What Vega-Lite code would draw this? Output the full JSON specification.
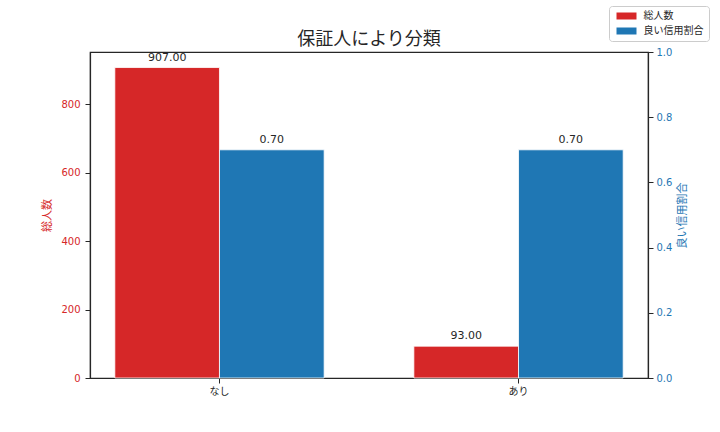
{
  "$schema": "https://vega.github.io/schema/vega-lite/v6.json",
  "width": 558,
  "height": 326,
  "autosize": {"type": "none"},
  "padding": {"left": 90, "top": 52, "right": 72, "bottom": 54},
  "background": "white",
  "config": {
    "font": "DejaVu Sans, Noto Sans CJK JP",
    "view": {"stroke": "#262626", "strokeWidth": 1.2},
    "axis": {"domainColor": "#262626", "domainWidth": 1.2, "tickColor": "#262626", "tickSize": 5, "tickWidth": 1, "grid": false, "labelFontSize": 10, "labelFont": "DejaVu Sans, Noto Sans CJK JP", "titleFont": "DejaVu Sans, Noto Sans CJK JP", "titleFontWeight": "normal"}
  },
  "title": {"text": "保証人により分類", "fontSize": 18, "fontWeight": "normal", "color": "#262626", "offset": 6, "dy": 63, "baseline": "alphabetic", "font": "Noto Sans CJK JP"},
  "data": {"values": [
    {"guarantor": "なし", "metric": "総人数", "value": 907},
    {"guarantor": "なし", "metric": "良い信用割合", "value": 0.70},
    {"guarantor": "あり", "metric": "総人数", "value": 93},
    {"guarantor": "あり", "metric": "良い信用割合", "value": 0.70}
  ]},
  "encoding": {
    "x": {"field": "guarantor", "type": "nominal", "sort": ["なし", "あり"], "scale": {"paddingInner": 0.3, "paddingOuter": 0.083},
      "axis": {"title": null, "labelAngle": 0, "labelColor": "#262626", "labelPadding": 3, "labelFontSize": 10}},
    "xOffset": {"field": "metric", "type": "nominal", "sort": ["総人数", "良い信用割合"]}
  },
  "layer": [
    {
      "transform": [{"filter": "datum.metric == '総人数'"}],
      "encoding": {
        "y": {"field": "value", "type": "quantitative", "scale": {"domain": [0, 952.35], "nice": false, "zero": true},
          "axis": {"orient": "left", "title": "総人数", "values": [0, 200, 400, 600, 800], "labelColor": "#d62728", "titleColor": "#d62728", "titleFontSize": 11, "labelPadding": 5, "titleAngle": 270, "titleX": -43, "titleY": 163, "titleAlign": "center", "titleBaseline": "middle"}}
      },
      "layer": [
        {"mark": {"type": "bar", "stroke": "white", "strokeWidth": 0.8},
          "encoding": {"color": {"field": "metric", "type": "nominal", "scale": {"domain": ["総人数", "良い信用割合"], "range": ["#d62728", "#1f77b4"]},
            "legend": {"orient": "none", "legendX": 519, "legendY": -46, "direction": "vertical", "title": null, "symbolType": "M-4,-1.4H4V1.4H-4Z", "symbolSize": 25, "symbolStrokeWidth": 0, "symbolOffset": 7.5, "labelFontSize": 10, "labelColor": "#262626", "labelOffset": 12, "rowPadding": 5, "padding": 5, "strokeColor": "#cccccc", "fillColor": "white", "cornerRadius": 3}}}},
        {"mark": {"type": "text", "baseline": "alphabetic", "dy": -7, "fontSize": 11, "color": "#262626"},
          "encoding": {"text": {"field": "value", "type": "quantitative", "format": ".2f"}}}
      ]
    },
    {
      "transform": [{"filter": "datum.metric == '良い信用割合'"}],
      "encoding": {
        "y": {"field": "value", "type": "quantitative", "scale": {"domain": [0, 1], "nice": false},
          "axis": {"orient": "right", "title": "良い信用割合", "values": [0, 0.2, 0.4, 0.6, 0.8, 1.0], "format": ".1f", "labelColor": "#1f77b4", "titleColor": "#1f77b4", "titleFontSize": 11, "labelPadding": 3, "titleAngle": 270, "titleX": 34, "titleY": 163, "titleAlign": "center", "titleBaseline": "middle"}}
      },
      "layer": [
        {"mark": {"type": "bar", "stroke": "white", "strokeWidth": 0.8},
          "encoding": {"color": {"field": "metric", "type": "nominal", "scale": {"domain": ["総人数", "良い信用割合"], "range": ["#d62728", "#1f77b4"]}}}},
        {"mark": {"type": "text", "baseline": "alphabetic", "dy": -7, "fontSize": 11, "color": "#262626"},
          "encoding": {"text": {"field": "value", "type": "quantitative", "format": ".2f"}}}
      ]
    }
  ],
  "resolve": {"scale": {"y": "independent"}, "axis": {"y": "independent"}}
}
